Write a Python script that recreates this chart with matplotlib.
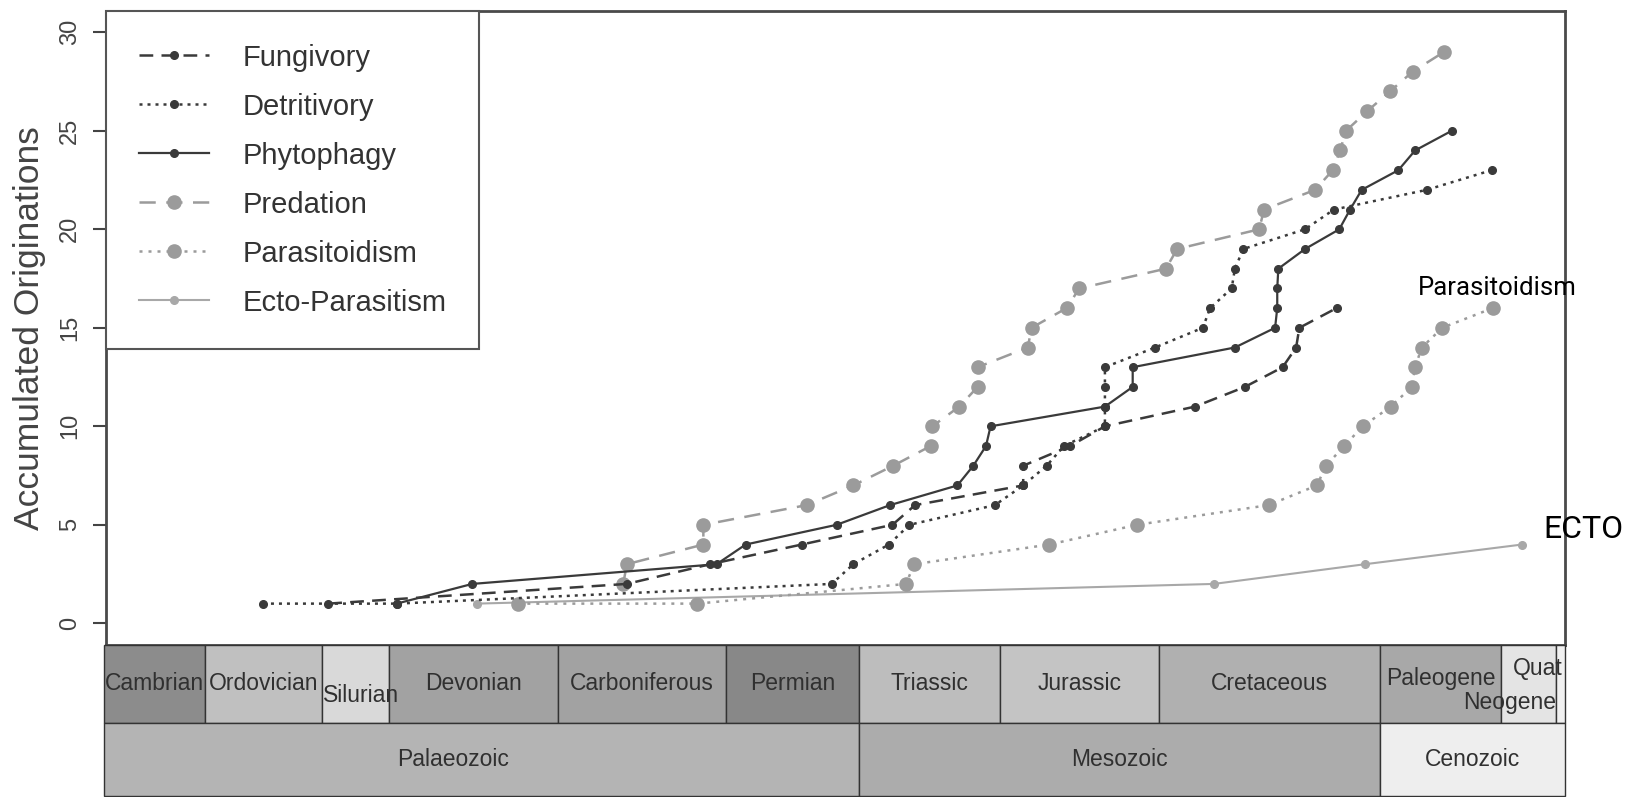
import matplotlib
matplotlib.use("Agg")
import matplotlib.pyplot as plt
from matplotlib.patches import Rectangle

plt.rcParams['font.family'] = ['Liberation Sans', 'DejaVu Sans']

# ages (Ma) and accumulated originations
fung_ma = [458.6, 347.9, 317.0, 283.0, 249.4, 241.0, 200.9, 200.9, 183.5, 170.6,
           137.2, 118.7, 104.7, 99.7, 98.5, 84.7]
fung_n = [1, 2, 3, 4, 5, 6, 7, 8, 9, 10, 11, 12, 13, 14, 15, 16]

detr_ma = [482.8, 433.2, 271.9, 263.9, 250.7, 243.1, 211.4, 200.9, 192.2, 185.8,
           170.6, 170.6, 170.6, 170.6, 152.0, 134.3, 131.6, 123.6, 122.4, 119.3,
           96.4, 85.7, 51.3, 27.2]
detr_n = [1, 1, 2, 3, 4, 5, 6, 7, 8, 9, 10, 11, 12, 13, 14, 15, 16, 17, 18, 19,
          20, 21, 22, 23]

phyt_ma = [433.2, 405.2, 314.6, 303.8, 270.1, 250.3, 225.3, 219.4, 214.7, 213.0,
           170.6, 160.3, 160.3, 122.4, 107.5, 106.7, 106.7, 106.3, 96.4, 83.7,
           79.7, 75.4, 61.8, 55.6, 42.0]
phyt_n = [1, 2, 3, 4, 5, 6, 7, 8, 9, 10, 11, 12, 13, 14, 15, 16, 17, 18, 19, 20,
          21, 22, 23, 24, 25]

pred_ma = [349.2, 347.9, 319.5, 319.5, 281.2, 263.9, 249.1, 235.2, 234.6, 224.6,
           217.8, 217.8, 199.2, 197.8, 184.8, 180.1, 148.0, 143.8, 113.4, 111.6,
           92.7, 86.1, 83.4, 81.2, 73.3, 64.9, 56.5, 44.9]
pred_n = [2, 3, 4, 5, 6, 7, 8, 9, 10, 11, 12, 13, 14, 15, 16, 17, 18, 19, 20, 21,
          22, 23, 24, 25, 26, 27, 28, 29]

para_ma = [388.1, 321.7, 244.4, 241.3, 191.2, 158.7, 109.9, 92.0, 88.6, 81.9,
           75.0, 64.6, 56.8, 55.6, 53.1, 45.5, 26.8]
para_n = [1, 1, 2, 3, 4, 5, 6, 7, 8, 9, 10, 11, 12, 13, 14, 15, 16]

ecto_ma = [403.5, 130.2, 74.2, 15.9]
ecto_n = [1, 2, 3, 4]

# geological time scale boxes as drawn in the figure
periods = ["Cambrian", "Ordovician", "Silurian", "Devonian", "Carboniferous", "Permian",
           "Triassic", "Jurassic", "Cretaceous", "Paleogene", "Neogene", "Quaternary"]
period_start = [541.7, 504.4, 460.9, 435.9, 373.5, 310.9, 261.9, 209.4, 150.6, 68.6, 23.7, 3.2]
period_end = [504.4, 460.9, 435.9, 373.5, 310.9, 261.9, 209.4, 150.6, 68.6, 23.7, 3.2, 0.0]
period_colors = ["#8c8c8c", "#c0c0c0", "#d9d9d9", "#a2a2a2", "#a2a2a2", "#888888",
                 "#bdbdbd", "#c4c4c4", "#b0b0b0", "#a8a8a8", "#e4e4e4", "#f0f0f0"]

eras = ["Palaeozoic", "Mesozoic", "Cenozoic"]
era_start = [541.7, 261.9, 68.6]
era_end = [261.9, 68.6, 0.0]
era_colors = ["#b4b4b4", "#acacac", "#eeeeee"]
era_label_ma = [412.3, 165.2, 34.3]

dark = "#3a3a3a"
grey = "#9b9b9b"
light = "#a8a8a8"

fig = plt.figure(figsize=(16.31, 7.97), dpi=100)
ax = fig.add_axes([106 / 1631, 1 - 645 / 797, 1459 / 1631, 634 / 797])

ax.plot(ecto_ma, ecto_n, color=light, lw=1.5, marker='o', ms=5.5, label="Ecto-Parasitism", zorder=2)
ax.plot(para_ma, para_n, color=grey, lw=1.8, ls=(0, (1.2, 2.4)), marker='o', ms=9.5,
        label="Parasitoidism", zorder=2)
ax.plot(pred_ma, pred_n, color=grey, lw=1.8, ls=(0, (6.5, 4.2)), marker='o', ms=9.5,
        label="Predation", zorder=2)
ax.plot(fung_ma, fung_n, color=dark, lw=1.8, ls=(0, (5.5, 3.3)), marker='o', ms=5.5,
        label="Fungivory", zorder=3)
ax.plot(detr_ma, detr_n, color=dark, lw=1.8, ls=(0, (1.2, 2.0)), marker='o', ms=5.5,
        label="Detritivory", zorder=3)
ax.plot(phyt_ma, phyt_n, color=dark, lw=1.6, marker='o', ms=5.5, label="Phytophagy", zorder=3)

ax.set_xlim(541, 0)
ax.set_ylim(-1.1, 31.08)
ax.set_xticks([])
ax.set_yticks([0, 5, 10, 15, 20, 25, 30])
ax.tick_params(axis='y', length=9.5, width=1.5, pad=8.5, labelsize=17,
               labelrotation=90, colors='#444444')
for lab in ax.get_yticklabels():
    lab.set_va('center')
for s in ax.spines.values():
    s.set_color('#4a4a4a')
    s.set_linewidth(2)
ax.set_ylabel("Accumulated Originations", fontsize=25.5, color='#444444')
ax.yaxis.set_label_coords(-0.041, 0.5)

handles, labels = ax.get_legend_handles_labels()
order = ["Fungivory", "Detritivory", "Phytophagy", "Predation", "Parasitoidism", "Ecto-Parasitism"]
hmap = dict(zip(labels, handles))
leg = ax.legend([hmap[k] for k in order], order, loc='upper left', bbox_to_anchor=(0, 1),
                borderaxespad=0, fontsize=21, fancybox=False, edgecolor='#555555',
                handlelength=2.4, handletextpad=1.15, borderpad=1.12, labelspacing=0.72,
                numpoints=1, labelcolor='#333333', framealpha=1)
leg.get_frame().set_linewidth(1.5)

# time scale below the plot
bx = fig.add_axes([104 / 1631, 0, 1461 / 1631, 152 / 797])
bx.set_xlim(541.7, 0)
bx.set_ylim(0, 152)
bx.axis('off')

quat_clip = Rectangle((1.2, 74), 30, 78, transform=bx.transData, facecolor='none')

for name, a, b, c in zip(periods, period_start, period_end, period_colors):
    bx.add_patch(Rectangle((b, 74), a - b, 78, facecolor=c, edgecolor='#333333', lw=1,
                           clip_on=False))
    x, y, ha = (a + b) / 2, 113, 'center'
    if name == "Silurian":
        x, y, ha = a - 0.3, 101, 'left'
    elif name == "Paleogene":
        y = 118
    elif name == "Neogene":
        x, y, ha = b + 0.2, 94, 'right'
    elif name == "Quaternary":
        x, y, ha = 19.3, 128, 'left'
    t = bx.text(x, y, name, ha=ha, va='center', fontsize=16.5, color='#303030',
                clip_on=(name == "Quaternary"))
    if name == "Quaternary":
        t.set_clip_path(quat_clip)

for name, a, b, c, lx in zip(eras, era_start, era_end, era_colors, era_label_ma):
    bx.add_patch(Rectangle((b, 1), a - b, 73, facecolor=c, edgecolor='#333333', lw=1,
                           clip_on=False))
    bx.text(lx, 37, name, ha='center', va='center', fontsize=16.5, color='#303030')

fig.text(1418 / 1631, 1 - 288 / 797, "Parasitoidism", fontsize=18.5, family=['Roboto', 'DejaVu Sans'],
         va='center', ha='left', color='black')
fig.text(1543 / 1631, 1 - 530 / 797, "ECTO", fontsize=23, family=['Roboto', 'DejaVu Sans'],
         va='center', ha='left', color='black')

fig.savefig("out.png", dpi=100)
